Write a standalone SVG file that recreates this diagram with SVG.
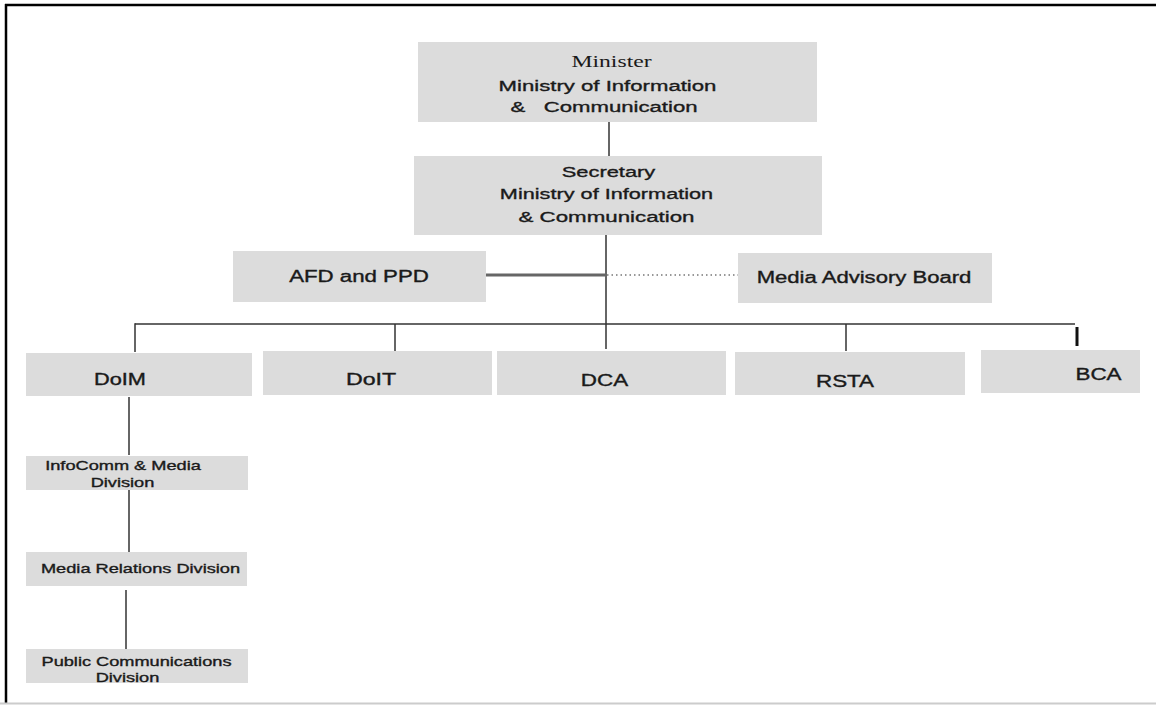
<svg xmlns="http://www.w3.org/2000/svg" width="1156" height="705" viewBox="0 0 1156 705">
<style>
.box{fill:#dcdcdc}
.t{font-family:"Liberation Sans",Arial,sans-serif;fill:#1a1a1a;stroke:#1a1a1a;stroke-width:0.35;text-anchor:middle}
.big{font-size:15.5px}
.mid{font-size:16px}
.sm{font-size:13px}
.serif{font-family:"Liberation Serif","Times New Roman",serif;fill:#1a1a1a;font-size:16px;text-anchor:middle}
.ln{stroke:#333;stroke-width:1.5;fill:none}
</style>
<rect x="0" y="0" width="1156" height="705" fill="#fff"/>
<g id="frame">
<line x1="5" y1="5" x2="1156" y2="5" stroke="#000" stroke-width="2.5"/>
<line x1="6" y1="4" x2="6" y2="703" stroke="#000" stroke-width="2.5"/>
<line x1="0" y1="703.5" x2="1156" y2="703.5" stroke="#ccc" stroke-width="2"/>
</g>
<g id="connectors">
<line class="ln" x1="609" y1="122" x2="609" y2="156"/>
<line class="ln" x1="606" y1="235" x2="606" y2="349"/>
<line x1="486" y1="275" x2="606" y2="275" stroke="#666" stroke-width="3"/>
<line x1="607" y1="275" x2="738" y2="275" stroke="#777" stroke-width="1.5" stroke-dasharray="1.5 3"/>
<line class="ln" x1="135" y1="324" x2="1075" y2="324"/>
<line class="ln" x1="135" y1="323.3" x2="135" y2="352"/>
<line class="ln" x1="395" y1="324" x2="395" y2="351"/>
<line class="ln" x1="846" y1="324" x2="846" y2="351"/>
<line x1="1077" y1="327" x2="1077" y2="346" stroke="#111" stroke-width="3"/>
<line class="ln" x1="129" y1="397" x2="129" y2="455"/>
<line class="ln" x1="129" y1="478" x2="129" y2="552"/>
<line class="ln" x1="126" y1="590" x2="126" y2="650"/>
</g>
<g id="minister">
<rect class="box" x="418" y="42" width="399" height="80"/>
<text class="serif" transform="translate(611.5,67) scale(1.48,1)">Minister</text>
<text class="t big" transform="translate(607.5,91) scale(1.43,1)">Ministry of Information</text>
<text class="t big" transform="translate(604,112) scale(1.43,1)" xml:space="preserve">&amp;   Communication</text>
</g>
<g id="secretary">
<rect class="box" x="414" y="156" width="408" height="79"/>
<text class="t big" transform="translate(608.5,177) scale(1.41,1)">Secretary</text>
<text class="t big" transform="translate(606.5,199) scale(1.4,1)">Ministry of Information</text>
<text class="t big" transform="translate(606.5,222) scale(1.44,1)">&amp; Communication</text>
</g>
<g id="afd">
<rect class="box" x="233" y="251" width="253" height="51"/>
<text class="t mid" transform="translate(359,282) scale(1.39,1)">AFD and PPD</text>
</g>
<g id="mab">
<rect class="box" x="738" y="253" width="254" height="50"/>
<text class="t mid" transform="translate(864,283) scale(1.38,1)">Media Advisory Board</text>
</g>
<g id="doim">
<rect class="box" x="26" y="353" width="226" height="43"/>
<text class="t mid" transform="translate(120,385) scale(1.36,1)">DoIM</text>
</g>
<g id="doit">
<rect class="box" x="263" y="351" width="229" height="44"/>
<text class="t mid" transform="translate(371,385) scale(1.45,1)">DoIT</text>
</g>
<g id="dca">
<rect class="box" x="497" y="351" width="229" height="44"/>
<text class="t mid" transform="translate(604.5,386) scale(1.4,1)">DCA</text>
</g>
<g id="rsta">
<rect class="box" x="735" y="352" width="230" height="43"/>
<text class="t mid" transform="translate(845,387) scale(1.4,1)">RSTA</text>
</g>
<g id="bca">
<rect class="box" x="981" y="350" width="159" height="43"/>
<text class="t mid" transform="translate(1098.5,380) scale(1.4,1)">BCA</text>
</g>
<g id="infocomm">
<rect class="box" x="26" y="456" width="222" height="34"/>
<text class="t sm" transform="translate(123,470) scale(1.4,1)">InfoComm &amp; Media</text>
<text class="t sm" transform="translate(122.5,487) scale(1.4,1)">Division</text>
</g>
<g id="mediarel">
<rect class="box" x="26" y="552" width="221" height="34"/>
<text class="t sm" transform="translate(140.5,573) scale(1.4,1)">Media Relations Division</text>
</g>
<g id="publiccomm">
<rect class="box" x="26" y="649" width="222" height="34"/>
<text class="t sm" transform="translate(136.5,666) scale(1.4,1)">Public Communications</text>
<text class="t sm" transform="translate(127.5,682) scale(1.4,1)">Division</text>
</g>
</svg>
